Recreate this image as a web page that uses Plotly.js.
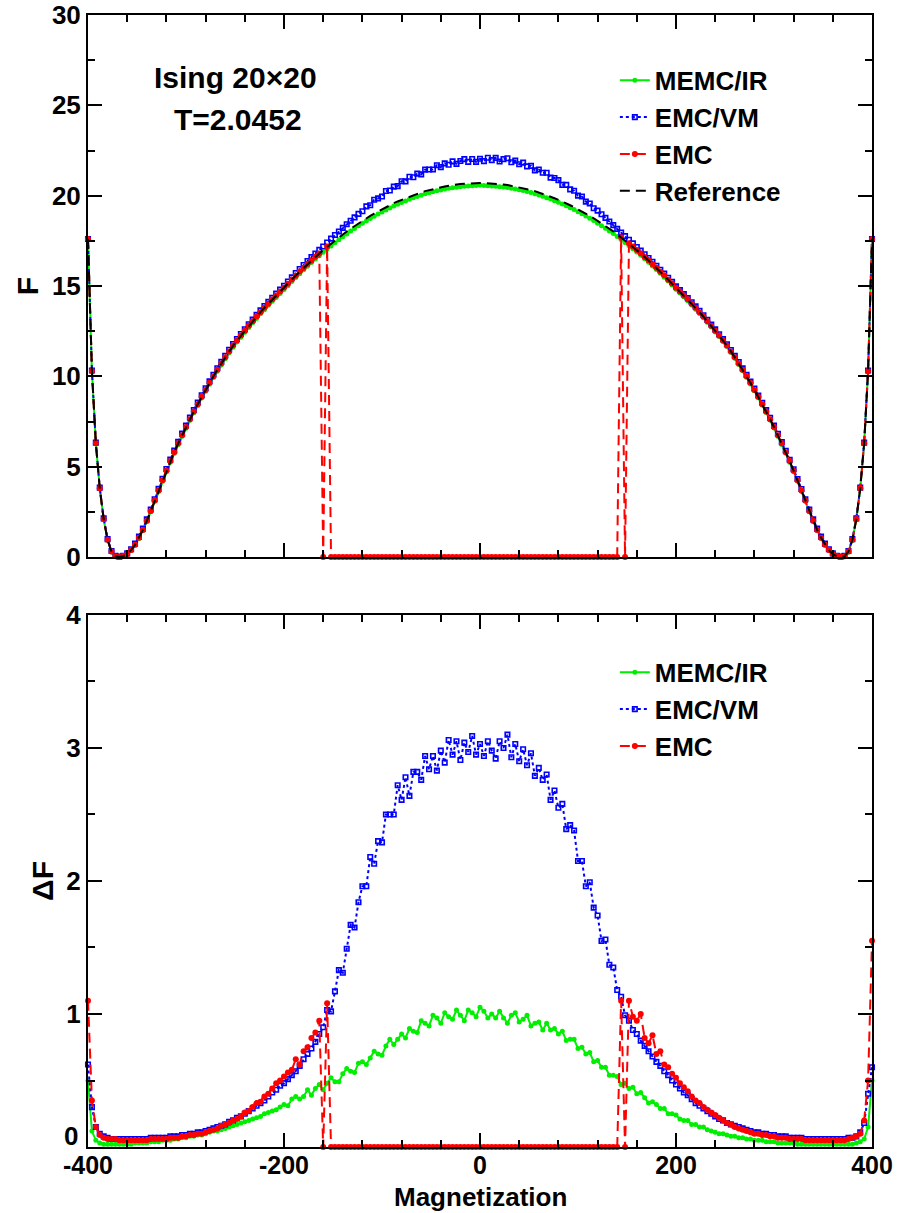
<!DOCTYPE html>
<html>
<head>
<meta charset="utf-8">
<script src="https://cdn.plot.ly/plotly-3.0.1.min.js"></script>
<style>html,body{margin:0;padding:0;background:#fff;}#chart{width:912px;height:1213px;}</style>
</head>
<body>
<div id="chart"></div>
<script>
// Magnetization grid (M = -400 ... 400, step 4)
const magnetization = [];
for (let m = -400; m <= 400; m += 4) magnetization.push(m);

const xTickVals = [-400, -200, 0, 200, 400];
const xTickText = ['-400', '-200', '0', '200', '400'];
const fTickVals = [0, 5, 10, 15, 20, 25, 30];
const dfTickVals = [1, 2, 3, 4];   // the "0" label of the lower panel is placed as an annotation
const dfZeroLabel = '0';

// ---- Top panel: free energy F ----
const F_reference = [
17.6,10.3,6.3,3.8,2.1,0.95,0.3,0.04,0.0,0.04,
0.16,0.38,0.68,1.06,1.5,2.0,2.55,3.12,3.68,4.24,
4.78,5.3,5.8,6.28,6.74,7.19,7.63,8.05,8.46,8.86,
9.25,9.63,10.0,10.36,10.71,11.05,11.38,11.7,11.98,12.25,
12.52,12.79,13.05,13.3,13.55,13.79,14.02,14.25,14.47,14.69,
14.9,15.13,15.35,15.58,15.79,16.0,16.21,16.41,16.61,16.8,
16.99,17.17,17.35,17.52,17.69,17.86,18.02,18.17,18.32,18.47,
18.61,18.75,18.88,19.01,19.13,19.25,19.36,19.47,19.58,19.68,
19.77,19.86,19.95,20.03,20.11,20.18,20.25,20.31,20.37,20.42,
20.47,20.51,20.55,20.59,20.62,20.64,20.66,20.68,20.69,20.7,
20.7,20.7,20.69,20.68,20.66,20.64,20.62,20.59,20.55,20.51,
20.47,20.42,20.37,20.31,20.25,20.18,20.11,20.03,19.95,19.86,
19.77,19.68,19.58,19.47,19.36,19.25,19.13,19.01,18.88,18.75,
18.61,18.47,18.32,18.17,18.02,17.86,17.69,17.52,17.35,17.17,
16.99,16.8,16.61,16.41,16.21,16.0,15.79,15.58,15.35,15.13,
14.9,14.69,14.47,14.25,14.02,13.79,13.55,13.3,13.05,12.79,
12.52,12.25,11.98,11.7,11.38,11.05,10.71,10.36,10.0,9.63,
9.25,8.86,8.46,8.05,7.63,7.19,6.74,6.28,5.8,5.3,
4.78,4.24,3.68,3.12,2.55,2.0,1.5,1.06,0.68,0.38,
0.16,0.04,0.0,0.04,0.3,0.95,2.1,3.8,6.3,10.3,
17.6];

const F_memc_ir = [
17.55,10.25,6.28,3.78,2.08,0.93,0.28,0.03,0.0,0.03,
0.14,0.36,0.65,1.03,1.47,1.96,2.51,3.08,3.63,4.19,
4.72,5.25,5.74,6.22,6.68,7.12,7.57,7.98,8.39,8.8,
9.18,9.56,9.93,10.28,10.63,10.97,11.3,11.61,11.9,12.16,
12.44,12.7,12.96,13.2,13.46,13.69,13.93,14.15,14.37,14.59,
14.8,15.02,15.25,15.47,15.68,15.9,16.1,16.3,16.5,16.68,
16.87,17.05,17.22,17.4,17.56,17.73,17.88,18.04,18.18,18.33,
18.47,18.6,18.74,18.86,18.98,19.1,19.21,19.32,19.43,19.53,
19.62,19.71,19.8,19.88,19.96,20.03,20.1,20.16,20.22,20.27,
20.32,20.37,20.41,20.44,20.47,20.5,20.52,20.54,20.55,20.56,
20.57,20.56,20.55,20.54,20.52,20.5,20.48,20.45,20.41,20.37,
20.33,20.28,20.23,20.17,20.11,20.04,19.97,19.89,19.81,19.72,
19.63,19.54,19.44,19.33,19.23,19.11,19.0,18.88,18.75,18.62,
18.48,18.34,18.2,18.05,17.9,17.74,17.58,17.41,17.24,17.06,
16.88,16.7,16.51,16.31,16.11,15.91,15.7,15.49,15.27,15.05,
14.82,14.61,14.4,14.18,13.95,13.72,13.48,13.24,12.99,12.73,
12.46,12.2,11.93,11.65,11.33,11.0,10.66,10.31,9.95,9.58,
9.2,8.81,8.41,8.0,7.58,7.14,6.69,6.23,5.75,5.25,
4.73,4.2,3.64,3.08,2.51,1.96,1.47,1.03,0.66,0.36,
0.14,0.03,0.0,0.03,0.28,0.93,2.08,3.78,6.27,10.25,
17.55];

const F_emc_vm = [
17.6,10.32,6.33,3.84,2.14,0.99,0.33,0.06,0.02,0.07,
0.2,0.43,0.74,1.13,1.57,2.08,2.63,3.2,3.77,4.33,
4.87,5.39,5.89,6.37,6.83,7.28,7.72,8.14,8.55,8.95,
9.34,9.72,10.09,10.45,10.8,11.14,11.47,11.79,12.07,12.34,
12.61,12.88,13.14,13.4,13.65,13.89,14.12,14.35,14.58,14.8,
15.01,15.25,15.48,15.72,15.94,16.16,16.38,16.6,16.8,17.0,
17.19,17.41,17.62,17.82,18.02,18.22,18.42,18.61,18.8,18.99,
19.14,19.41,19.47,19.77,19.85,19.95,20.26,20.29,20.5,20.53,
20.8,20.79,21.05,21.02,21.22,21.18,21.44,21.45,21.45,21.68,
21.58,21.79,21.71,21.9,21.76,21.92,22.02,21.87,22.03,21.87,
22.04,21.91,22.1,21.97,22.09,21.89,22.02,22.07,21.85,21.94,
21.74,21.83,21.62,21.65,21.4,21.45,21.27,21.27,21.0,20.98,
20.86,20.6,20.6,20.35,20.27,20.0,19.95,19.67,19.57,19.3,
19.17,18.97,18.77,18.57,18.37,18.16,17.96,17.76,17.56,17.36,
17.16,16.96,16.76,16.55,16.34,16.12,15.9,15.69,15.46,15.23,
14.98,14.77,14.55,14.33,14.1,13.87,13.63,13.38,13.13,12.87,
12.6,12.33,12.06,11.78,11.46,11.13,10.79,10.44,10.08,9.71,
9.33,8.94,8.54,8.13,7.71,7.27,6.82,6.36,5.88,5.38,
4.86,4.32,3.76,3.2,2.63,2.08,1.57,1.13,0.74,0.43,
0.2,0.07,0.02,0.06,0.33,0.99,2.14,3.84,6.33,10.32,
17.6];

const F_emc = [
17.6,10.3,6.31,3.8,2.11,0.95,0.31,0.04,0.0,0.05,
0.16,0.39,0.68,1.07,1.5,2.01,2.55,3.13,3.68,4.25,
4.78,5.31,5.8,6.29,6.74,7.2,7.63,8.06,8.46,8.87,
9.25,9.64,10.0,10.37,10.71,11.06,11.38,11.71,11.98,12.26,
12.52,12.8,13.05,13.31,13.55,13.8,14.02,14.26,14.47,14.7,
14.92,15.12,15.36,15.57,15.8,16.0,16.22,16.4,16.62,16.8,
0,17.18,0,0,0,0,0,0,0,0,
0,0,0,0,0,0,0,0,0,0,
0,0,0,0,0,0,0,0,0,0,
0,0,0,0,0,0,0,0,0,0,
0,0,0,0,0,0,0,0,0,0,
0,0,0,0,0,0,0,0,0,0,
0,0,0,0,0,0,0,0,0,0,
0,0,0,0,0,0,17.7,0,17.36,17.18,
16.99,16.81,16.61,16.42,16.21,16.01,15.79,15.59,15.35,15.14,
14.9,14.7,14.47,14.26,14.02,13.8,13.55,13.31,13.05,12.8,
12.52,12.26,11.98,11.71,11.38,11.06,10.71,10.37,10.0,9.64,
9.25,8.87,8.46,8.06,7.63,7.2,6.74,6.29,5.8,5.31,
4.78,4.25,3.68,3.13,2.55,2.01,1.5,1.07,0.68,0.39,
0.16,0.05,0.0,0.04,0.31,0.95,2.11,3.8,6.31,10.3,
17.6];

// ---- Bottom panel: error ΔF ----
const dF_memc_ir = [
0.5,0.12,0.05,0.03,0.02,0.02,0.02,0.02,0.02,0.02,
0.02,0.02,0.03,0.03,0.03,0.03,0.04,0.04,0.04,0.05,
0.05,0.05,0.06,0.06,0.07,0.07,0.08,0.08,0.09,0.09,
0.1,0.11,0.12,0.12,0.13,0.14,0.15,0.16,0.17,0.18,
0.19,0.2,0.21,0.22,0.23,0.25,0.26,0.27,0.28,0.3,
0.32,0.31,0.36,0.38,0.36,0.38,0.43,0.39,0.44,0.47,
0.43,0.48,0.52,0.49,0.49,0.55,0.59,0.57,0.56,0.63,
0.64,0.62,0.67,0.72,0.7,0.69,0.76,0.81,0.77,0.81,
0.85,0.82,0.89,0.87,0.86,0.95,0.93,0.91,0.99,0.97,
0.93,1.01,0.98,0.96,1.03,0.99,0.95,1.03,1.01,0.98,
1.05,1.02,0.97,1.0,0.97,1.02,0.97,0.93,0.99,1.01,
0.94,0.96,0.99,0.91,0.93,0.94,0.88,0.93,0.88,0.89,
0.85,0.87,0.8,0.81,0.81,0.74,0.75,0.7,0.71,0.64,
0.65,0.6,0.6,0.54,0.54,0.53,0.47,0.48,0.44,0.45,
0.4,0.41,0.37,0.33,0.34,0.32,0.29,0.29,0.25,0.25,
0.24,0.21,0.2,0.2,0.17,0.17,0.15,0.15,0.13,0.12,
0.11,0.1,0.1,0.09,0.08,0.08,0.07,0.07,0.06,0.06,
0.05,0.05,0.05,0.04,0.04,0.04,0.03,0.03,0.03,0.03,
0.03,0.02,0.02,0.02,0.02,0.02,0.02,0.02,0.02,0.02,
0.02,0.02,0.02,0.02,0.02,0.02,0.03,0.04,0.06,0.15,
0.5];

const dF_emc_vm = [
0.62,0.3,0.15,0.1,0.08,0.07,0.06,0.06,0.06,0.06,
0.06,0.06,0.06,0.06,0.06,0.06,0.07,0.07,0.07,0.07,
0.07,0.08,0.08,0.08,0.09,0.09,0.1,0.1,0.11,0.11,
0.12,0.13,0.14,0.15,0.16,0.17,0.19,0.2,0.22,0.23,
0.25,0.27,0.29,0.31,0.33,0.35,0.38,0.41,0.43,0.46,
0.48,0.51,0.54,0.57,0.61,0.66,0.7,0.74,0.79,0.85,
0.9,1.03,1.02,1.17,1.33,1.31,1.49,1.67,1.65,1.84,
1.96,1.96,2.18,2.13,2.3,2.29,2.5,2.5,2.5,2.72,
2.61,2.78,2.64,2.82,2.82,2.76,2.94,2.84,2.94,2.83,
2.98,2.89,3.06,2.95,3.05,2.91,3.04,2.97,3.09,2.95,
3.03,2.94,3.05,2.98,2.92,3.05,3.0,3.1,2.93,3.03,
2.9,2.99,2.87,2.96,2.79,2.85,2.76,2.8,2.61,2.68,
2.55,2.58,2.39,2.42,2.38,2.15,2.15,1.96,1.99,1.8,
1.74,1.55,1.56,1.37,1.35,1.18,1.13,0.99,0.95,0.88,
0.85,0.8,0.76,0.72,0.68,0.64,0.61,0.57,0.54,0.5,
0.47,0.44,0.41,0.39,0.36,0.33,0.31,0.29,0.27,0.25,
0.23,0.21,0.2,0.18,0.17,0.16,0.15,0.14,0.13,0.12,
0.11,0.11,0.1,0.1,0.09,0.09,0.08,0.08,0.08,0.07,
0.07,0.07,0.07,0.06,0.06,0.06,0.06,0.06,0.06,0.06,
0.06,0.06,0.06,0.06,0.07,0.07,0.08,0.11,0.18,0.4,
0.6];

const dF_emc = [
1.1,0.35,0.15,0.09,0.07,0.06,0.06,0.06,0.05,0.05,
0.05,0.05,0.05,0.05,0.05,0.05,0.06,0.06,0.06,0.06,
0.06,0.07,0.07,0.07,0.08,0.08,0.09,0.09,0.1,0.1,
0.11,0.12,0.13,0.14,0.16,0.17,0.18,0.2,0.21,0.23,
0.26,0.27,0.3,0.33,0.34,0.38,0.4,0.44,0.48,0.5,
0.53,0.56,0.58,0.66,0.62,0.72,0.75,0.82,0.86,0.95,
0,1.08,0,0,0,0,0,0,0,0,
0,0,0,0,0,0,0,0,0,0,
0,0,0,0,0,0,0,0,0,0,
0,0,0,0,0,0,0,0,0,0,
0,0,0,0,0,0,0,0,0,0,
0,0,0,0,0,0,0,0,0,0,
0,0,0,0,0,0,0,0,0,0,
0,0,0,0,0,0,1.1,0,1.1,0.98,
0.95,1.0,0.82,0.78,0.84,0.7,0.72,0.62,0.6,0.55,
0.52,0.48,0.45,0.42,0.38,0.35,0.33,0.3,0.28,0.26,
0.24,0.22,0.2,0.18,0.17,0.15,0.14,0.13,0.12,0.11,
0.1,0.1,0.09,0.09,0.08,0.08,0.07,0.07,0.07,0.06,
0.06,0.06,0.06,0.05,0.05,0.05,0.05,0.05,0.05,0.05,
0.05,0.05,0.05,0.05,0.06,0.07,0.08,0.1,0.2,0.5,
1.55];

const GREEN = '#00ee00', BLUE = '#0000ff', RED = '#ff0000';
const FONT = 'Liberation Sans, Arial, Helvetica, sans-serif';

function green(y, xa, ya, leg) {
  return {x: magnetization, y: y, xaxis: xa, yaxis: ya, name: 'MEMC/IR', legend: leg,
    mode: 'lines+markers', cliponaxis: false,
    line: {color: GREEN, width: 2}, marker: {color: GREEN, size: 5, symbol: 'circle'}};
}
function blue(y, xa, ya, leg) {
  return {x: magnetization, y: y, xaxis: xa, yaxis: ya, name: 'EMC/VM', legend: leg,
    mode: 'lines+markers', cliponaxis: false,
    line: {color: BLUE, width: 2, dash: 'dot'},
    marker: {color: BLUE, size: 4.5, symbol: 'square-open', line: {color: BLUE, width: 1.6}}};
}
function red(y, xa, ya, leg) {
  return {x: magnetization, y: y, xaxis: xa, yaxis: ya, name: 'EMC', legend: leg,
    mode: 'lines+markers', cliponaxis: false,
    line: {color: RED, width: 2, dash: '10px,6px'}, marker: {color: RED, size: 6, symbol: 'circle'}};
}

const traces = [
  green(F_memc_ir, 'x', 'y', 'legend'),
  blue(F_emc_vm, 'x', 'y', 'legend'),
  red(F_emc, 'x', 'y', 'legend'),
  {x: magnetization, y: F_reference, xaxis: 'x', yaxis: 'y', name: 'Reference', legend: 'legend',
   mode: 'lines', line: {color: '#000', width: 2, dash: '10px,6px'}},
  green(dF_memc_ir, 'x2', 'y2', 'legend2'),
  blue(dF_emc_vm, 'x2', 'y2', 'legend2'),
  red(dF_emc, 'x2', 'y2', 'legend2')
];

const axisCommon = {
  showline: true, linecolor: '#000', linewidth: 2, mirror: 'allticks',
  ticks: 'inside', ticklen: 14, tickwidth: 2, tickcolor: '#000',
  showgrid: false, zeroline: false,
  tickfont: {family: FONT, size: 26, color: '#000', weight: 'bold'}
};
const minorX = {dtick: 40, tick0: 0, ticklen: 7, tickwidth: 2, tickcolor: '#000', ticks: 'inside', showgrid: false};
const minorDF = {dtick: 0.5, tick0: 0, ticklen: 7, tickwidth: 2, tickcolor: '#000', ticks: 'inside', showgrid: false};

const layout = {
  width: 912, height: 1213,
  margin: {l: 88, r: 40, t: 15, b: 66},
  paper_bgcolor: '#fff', plot_bgcolor: '#fff',
  font: {family: FONT, color: '#000'},
  showlegend: true,
  xaxis: Object.assign({}, axisCommon, {domain: [0, 1], anchor: 'y', range: [-400, 400],
    tickmode: 'array', tickvals: xTickVals, ticktext: xTickText, showticklabels: false, minor: minorX}),
  yaxis: Object.assign({}, axisCommon, {domain: [0.5212, 1], anchor: 'x', range: [0, 30],
    tickmode: 'array', tickvals: fTickVals,
    minor: {dtick: 2.5, tick0: 0, ticklen: 7, tickwidth: 2, tickcolor: '#000', ticks: 'inside', showgrid: false},
    title: {text: 'F', font: {family: FONT, size: 30, color: '#000', weight: 'bold'}, standoff: 4}}),
  xaxis2: Object.assign({}, axisCommon, {domain: [0, 1], anchor: 'y2', range: [-400, 400],
    tickmode: 'array', tickvals: xTickVals, ticktext: xTickText, ticklabelstandoff: -5, minor: minorX,
    tickfont: {family: FONT, size: 25, color: '#000', weight: 'bold'}}),
  yaxis2: Object.assign({}, axisCommon, {domain: [0, 0.47], anchor: 'x2', range: [0, 4],
    tickmode: 'array', tickvals: dfTickVals, minor: minorDF,
    title: {text: 'ΔF', font: {family: FONT, size: 30, color: '#000', weight: 'bold'}, standoff: 4}}),
  legend: {x: 0.672, y: 0.963, xanchor: 'left', yanchor: 'top', bgcolor: 'rgba(0,0,0,0)',
    font: {family: FONT, size: 26, color: '#000', weight: 'bold'}, tracegroupgap: 0},
  legend2: {x: 0.672, y: 0.44, xanchor: 'left', yanchor: 'top', bgcolor: 'rgba(0,0,0,0)',
    font: {family: FONT, size: 26, color: '#000', weight: 'bold'}, tracegroupgap: 0},
  annotations: [
    {text: 'Ising 20×20', xref: 'paper', yref: 'paper', x: 0.0816, y: 0.9452, xanchor: 'left', yanchor: 'middle',
     showarrow: false, font: {family: FONT, size: 30, color: '#000', weight: 'bold'}},
    {text: 'T=2.0452', xref: 'paper', yref: 'paper', x: 0.107, y: 0.908, xanchor: 'left', yanchor: 'middle',
     showarrow: false, font: {family: FONT, size: 30, color: '#000', weight: 'bold'}},
    {text: 'Magnetization', xref: 'paper', yref: 'paper', x: 0.5, y: -0.0442, xanchor: 'center', yanchor: 'middle',
     showarrow: false, borderpad: 0, font: {family: FONT, size: 26, color: '#000', weight: 'bold'}},
    {text: dfZeroLabel, xref: 'paper', yref: 'paper', x: -0.0115, y: 0.0097, xanchor: 'right', yanchor: 'middle',
     showarrow: false, borderpad: 0, font: {family: FONT, size: 26, color: '#000', weight: 'bold'}}
  ]
};

Plotly.newPlot('chart', traces, layout, {displayModeBar: false, staticPlot: true});
</script>
</body>
</html>
